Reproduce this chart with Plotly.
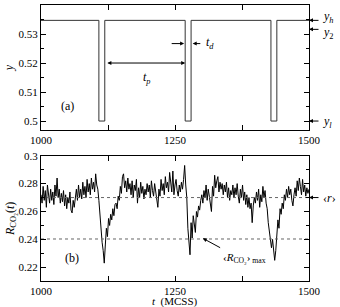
import plotly.graph_objects as go
from plotly.subplots import make_subplots

# ---- data ----
top_t = [1000, 1108, 1119, 1269, 1280, 1429, 1440, 1500]
top_y = [0.5347, 0.5, 0.5347, 0.5, 0.5347, 0.5, 0.5347, 0.5347]

t_start = 1000
t_step = 2
r_vals = [
    0.272, 0.266, 0.278, 0.268, 0.275, 0.263, 0.279, 0.270, 0.266, 0.276,
    0.268, 0.274, 0.265, 0.279, 0.271, 0.284, 0.270, 0.276, 0.266, 0.273,
    0.267, 0.275, 0.264, 0.272, 0.262, 0.270, 0.266, 0.274, 0.261, 0.259,
    0.268, 0.263, 0.272, 0.276, 0.268, 0.279, 0.270, 0.276, 0.269, 0.281,
    0.272, 0.278, 0.270, 0.283, 0.274, 0.280, 0.272, 0.284, 0.276, 0.281,
    0.274, 0.287, 0.279, 0.276, 0.268, 0.258, 0.245, 0.238, 0.232, 0.223,
    0.236, 0.248, 0.242, 0.255, 0.250, 0.258, 0.254, 0.262, 0.257, 0.265,
    0.266, 0.262, 0.271, 0.268, 0.278, 0.273, 0.285, 0.287, 0.277, 0.282,
    0.274, 0.284, 0.276, 0.280, 0.272, 0.282, 0.270, 0.279, 0.275, 0.283,
    0.266, 0.277, 0.270, 0.281, 0.273, 0.278, 0.269, 0.276, 0.272, 0.280,
    0.274, 0.279, 0.270, 0.282, 0.275, 0.271, 0.280, 0.274, 0.268, 0.263,
    0.276, 0.271, 0.283, 0.275, 0.280, 0.272, 0.285, 0.277, 0.281, 0.274,
    0.288, 0.278, 0.274, 0.289, 0.272, 0.279, 0.283, 0.275, 0.271, 0.279,
    0.274, 0.281, 0.276, 0.283, 0.293, 0.279, 0.270, 0.248, 0.236, 0.229,
    0.252, 0.241, 0.257, 0.249, 0.245, 0.260, 0.256, 0.264, 0.261, 0.268,
    0.272, 0.266, 0.275, 0.270, 0.279, 0.268, 0.276, 0.271, 0.264, 0.260,
    0.278, 0.271, 0.286, 0.277, 0.282, 0.285, 0.274, 0.281, 0.276, 0.280,
    0.272, 0.279, 0.274, 0.281, 0.270, 0.277, 0.268, 0.275, 0.272, 0.279,
    0.270, 0.277, 0.272, 0.280, 0.271, 0.266, 0.276, 0.270, 0.279, 0.268,
    0.274, 0.265, 0.272, 0.263, 0.270, 0.262, 0.266, 0.252, 0.264, 0.270,
    0.266, 0.274, 0.268, 0.276, 0.263, 0.272, 0.267, 0.278, 0.270, 0.275,
    0.266, 0.262, 0.252, 0.246, 0.238, 0.234, 0.240, 0.230, 0.225, 0.232,
    0.241, 0.254, 0.248, 0.262, 0.258, 0.266, 0.262, 0.272, 0.268, 0.276,
    0.270, 0.278, 0.272, 0.276, 0.268, 0.264, 0.272, 0.277, 0.271, 0.282,
    0.275, 0.284, 0.278, 0.272, 0.283, 0.274, 0.279, 0.271, 0.277, 0.273,
    0.276,
]
r_t = [t_start + i * t_step for i in range(len(r_vals))]

r_mean = 0.27
r_max = 0.2403

x_ticks = [1000, 1250, 1500]
x_minor = [1125, 1375]
y_top_ticks = [0.5, 0.51, 0.52, 0.53, 0.54]
y_top_ticktext = ["0.5", "0.51", "0.52", "0.53", "0.54"]
y_bot_ticks = [0.22, 0.24, 0.26, 0.28, 0.3]
y_bot_ticktext = ["0.22", "0.24", "0.26", "0.28", "0.3"]

FONT = "Liberation Serif"
TXT = dict(family=FONT, size=12, color="black")
TICK = dict(family=FONT, size=11, color="black")

fig = make_subplots(rows=2, cols=1, vertical_spacing=0.0)

fig.add_trace(go.Scatter(x=top_t, y=top_y, mode="lines", line_shape="hv",
                         line=dict(color="#333333", width=1), showlegend=False),
              row=1, col=1)
fig.add_trace(go.Scatter(x=r_t, y=r_vals, mode="lines",
                         line=dict(color="black", width=1), showlegend=False),
              row=2, col=1)

for yv in (r_mean, r_max):
    fig.add_trace(go.Scatter(x=[1000, 1500], y=[yv, yv], mode="lines",
                             line=dict(color="#666666", width=1, dash="dot"),
                             showlegend=False), row=2, col=1)

axis_common = dict(showline=True, linecolor="black", linewidth=1, mirror="ticks",
                   ticks="inside", ticklen=5, tickcolor="black", showgrid=False,
                   zeroline=False, automargin=False, tickfont=TICK)

fig.update_xaxes(**axis_common)
fig.update_yaxes(**axis_common)

x_minor_d = dict(ticks="inside", ticklen=5, tickvals=x_minor, tickcolor="black", showgrid=False)

fig.update_layout(
    template="none",
    xaxis=dict(domain=[0, 1], range=[1000, 1500], tickvals=x_ticks, minor=x_minor_d),
    xaxis2=dict(domain=[0, 1], range=[1000, 1500], tickvals=x_ticks, minor=x_minor_d),
    yaxis=dict(domain=[0.547, 1], range=[0.4969, 0.54], tickvals=y_top_ticks,
               ticktext=y_top_ticktext,
               minor=dict(ticks="inside", ticklen=3, tickvals=[0.505, 0.515, 0.525, 0.535],
                          tickcolor="black", showgrid=False),
               title=dict(text="<i>y</i>", font=TXT, standoff=2)),
    yaxis2=dict(domain=[0, 0.454], range=[0.2102, 0.3], tickvals=y_bot_ticks,
                ticktext=y_bot_ticktext,
                minor=dict(ticks="inside", ticklen=3, tickvals=[0.23, 0.25, 0.27, 0.29],
                           tickcolor="black", showgrid=False),
                title=dict(text="<i>R</i><sub>CO₂</sub>(<i>t</i>)", font=TXT, standoff=1)),
    width=340, height=307,
    margin=dict(l=41, r=31, t=5, b=26, pad=0),
    plot_bgcolor="white", paper_bgcolor="white",
    font=TXT,
)

ARW = dict(showarrow=True, arrowhead=2, arrowsize=0.8, arrowwidth=1, arrowcolor="black")
ann = []
# x-axis title
ann.append(dict(x=0.5, y=-0.074, xref="paper", yref="paper", text="<i>t</i>  (MCSS)",
                showarrow=False, yanchor="middle", font=TICK))
ann.append(dict(x=1050, y=0.5052, xref="x", yref="y", text="(a)", showarrow=False, font=TXT))
ann.append(dict(x=1058, y=0.2267, xref="x2", yref="y2", text="(b)", showarrow=False, font=TXT))
# t_p double arrow
ann.append(dict(x=1269, y=0.52, ax=1121, ay=0.52, xref="x", yref="y", axref="x", ayref="y",
                text="", arrowside="end+start", startarrowhead=2, startarrowsize=0.8, **ARW))
ann.append(dict(x=1198, y=0.5148, xref="x", yref="y", text="<i>t</i><sub><i>p</i></sub>",
                showarrow=False, font=TXT))
# t_d arrows
ann.append(dict(x=1267, y=0.5267, ax=1241, ay=0.5267, xref="x", yref="y", axref="x", ayref="y",
                text="", **ARW))
ann.append(dict(x=1283, y=0.5267, ax=1300, ay=0.5267, xref="x", yref="y", axref="x", ayref="y",
                text="", **ARW))
ann.append(dict(x=1304, y=0.527, xref="x", yref="y", text="<i>t</i><sub><i>d</i></sub>",
                showarrow=False, xanchor="left", font=TXT))
# right-side labels, top panel
for yv in (0.5347, 0.5316, 0.5):
    ann.append(dict(x=1500, y=yv, xref="x", yref="y", ax=11, ay=0, text="", **ARW))
ann.append(dict(x=1.0, y=0.5357, xref="paper", yref="y", xshift=12, text="<i>y</i><sub><i>h</i></sub>",
                showarrow=False, xanchor="left", font=TXT))
ann.append(dict(x=1.0, y=0.5305, xref="paper", yref="y", xshift=12, text="<i>y</i><sub>2</sub>",
                showarrow=False, xanchor="left", font=TXT))
ann.append(dict(x=1.0, y=0.4995, xref="paper", yref="y", xshift=12, text="<i>y</i><sub><i>l</i></sub>",
                showarrow=False, xanchor="left", font=TXT))
# <r>
ann.append(dict(x=1500, y=r_mean, xref="x2", yref="y2", ax=11, ay=0, text="", **ARW))
ann.append(dict(x=1.0, y=r_mean, xref="paper", yref="y2", xshift=12, text="‹<i>r</i>›",
                showarrow=False, xanchor="left", font=TXT))
# <R_CO2>max
ann.append(dict(x=1302, y=0.2408, ax=1337, ay=0.2335, xref="x2", yref="y2", axref="x2", ayref="y2",
                text="", **ARW))
ann.append(dict(x=1336, y=0.2265, xref="x2", yref="y2",
                text="‹<i>R</i><sub>CO₂</sub>›<sub> max</sub>", showarrow=False,
                xanchor="left", font=dict(family=FONT, size=11, color="black")))

fig.update_layout(annotations=ann)

fig.write_html("out.html", config={"displayModeBar": False},
               post_script="document.body.style.margin='0';")
